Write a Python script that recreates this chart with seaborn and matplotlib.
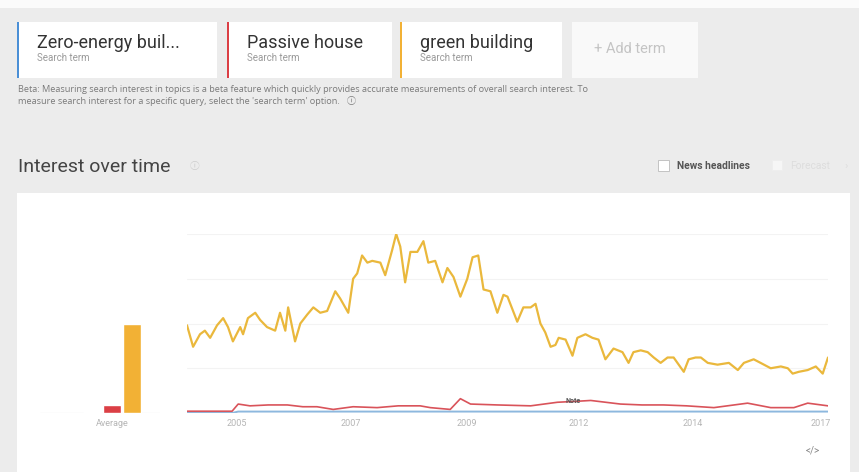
import matplotlib
matplotlib.use("Agg")
import matplotlib.pyplot as plt
import seaborn as sns
import pandas as pd
from matplotlib.patches import Rectangle

# ---------------- data ----------------
terms = ["Zero-energy building", "Passive house", "green building"]
term_labels = ["Zero-energy buil...", "Passive house", "green building"]
term_colors = ["#4a8fd6", "#db3f45", "#f2b135"]
averages = [0.6, 4.5, 50]

# months since Jan 2004
green_month = [0, 1.5, 3.2, 4.4, 5.7, 7.4, 8.9, 10.1, 11.3, 13.1, 13.8, 15.0, 16.8, 18.0,
               19.7, 21.7, 22.9, 24.2, 24.9, 26.6, 27.9, 29.6, 31.1, 32.8, 34.5, 36.5,
               37.7, 39.7, 40.9, 41.9, 43.1, 44.4, 45.6, 47.6, 48.8, 50.5, 51.5, 52.5,
               53.7, 55.0, 56.7, 58.2, 59.4, 61.1, 62.9, 64.1, 65.6, 67.3, 69.0, 70.3,
               71.7, 73.0, 74.7, 76.4, 77.9, 78.9, 81.3, 82.8, 84.6, 85.8, 87.0, 88.2,
               89.5, 90.7, 91.5, 93.2, 94.9, 96.1, 98.1, 99.8, 101.3, 103.0, 105.0,
               107.2, 108.7, 109.9, 111.7, 113.4, 114.9, 116.6, 118.3, 119.8, 122.3,
               123.5, 125.2, 126.5, 128.2, 130.6, 133.4, 135.6, 137.1, 139.5, 141.2,
               143.7, 146.2, 147.9, 149.1, 150.6, 152.8, 154.8, 156.5, 157.8]
green_value = [49, 37, 44, 46, 42, 49, 53, 48, 40, 48, 44, 53, 56, 52,
               48, 46, 56, 46, 59, 40, 50, 55, 59, 56, 57, 68,
               64, 56, 75, 78, 88, 84, 85, 84, 77, 91, 100, 93,
               73, 90, 90, 96, 84, 85, 73, 81, 76, 65, 75, 87,
               88, 69, 68, 56, 66, 65, 51, 59, 59, 61, 50, 45,
               37, 38, 42, 41, 32, 42, 44, 42, 41, 30, 36,
               34, 28, 34, 35, 34, 31, 28, 31, 31, 23,
               30, 31, 31, 28, 27, 28, 24, 28, 30, 28,
               25, 26, 25, 22, 23, 24, 26, 22, 31]

passive_month = [0, 11.1, 12.6, 15.5, 20.0, 24.7, 28.5, 32.0, 36.0, 40.9, 46.8, 52.0,
                 57.4, 59.9, 64.8, 67.3, 69.8, 76.4, 84.6, 91.2, 95.6, 99.4, 106.7,
                 112.0, 117.3, 123.0, 129.7, 138.0, 143.7, 149.4, 152.8, 157.8]
passive_value = [1, 1, 5, 4, 4.5, 4.5, 3.5, 3.5, 2, 3.5, 3, 4,
                 4, 3, 2, 8, 5, 4.5, 4, 6, 6.5, 7, 5,
                 4.5, 4.5, 4, 3, 5.5, 3, 3, 5.5, 4]

zero_month = [0, 11.1, 12.6, 157.8]
zero_value = [0, 0, 0.8, 0.8]

tick_months = [12.3, 40.4, 68.8, 96.4, 124.5, 156.0]
tick_labels = ["2005", "2007", "2009", "2012", "2014", "2017"]

# ---------------- figure ----------------
W, H = 859, 472
fig = plt.figure(figsize=(W / 100, H / 100), dpi=100)
fig.patch.set_facecolor("#ececec")

bg = fig.add_axes([0, 0, 1, 1])
bg.set_xlim(0, W)
bg.set_ylim(H, 0)
bg.axis("off")

FONT = "Roboto"
ICON_FONT = ["Open Sans", "Noto Sans CJK JP", "DejaVu Sans"]

# top white strip
bg.add_patch(Rectangle((0, 0), W, 8, color="#fbfbfb", lw=0))

# term cards
cards = [(17, 217), (227, 392), (400, 562)]
for (x0, x1), lab, col in zip(cards, term_labels, term_colors):
    bg.add_patch(Rectangle((x0, 22), x1 - x0, 56, color="white", lw=0))
    bg.add_patch(Rectangle((x0, 22), 2, 56, color=col, lw=0))
    bg.text(x0 + 20, 43, lab, fontsize=13, family=FONT, color="#333333", va="center", ha="left")
    bg.text(x0 + 20, 58, "Search term", fontsize=7, family=FONT, color="#9a9a9a", va="center", ha="left")
bg.add_patch(Rectangle((572, 22), 126, 56, color="#f9f9f9", lw=0))
bg.text(630, 49, "+ Add term", fontsize=10.5, family=FONT, color="#c4c4c4", va="center", ha="center")

bg.text(18, 89.5, "Beta: Measuring search interest in topics is a beta feature which quickly provides accurate "
        "measurements of overall search interest. To", fontsize=6.6, family="Open Sans", color="#7a7a7a",
        va="center", ha="left")
bg.text(18, 100.5, "measure search interest for a specific query, select the 'search term' option.   \u24d8",
        fontsize=6.6, family=ICON_FONT, color="#7a7a7a", va="center", ha="left")

# section header
bg.text(18, 167, "Interest over time", fontsize=14, family=FONT, color="#444444", va="center", ha="left")
bg.text(195, 167, "\u24d8", fontsize=7, family=ICON_FONT, color="#cccccc", va="center", ha="center")
bg.add_patch(Rectangle((658, 160), 11, 11, facecolor="white", edgecolor="#bbbbbb", lw=0.6))
bg.text(677, 166, "News headlines", fontsize=7.4, family=FONT, color="#555555", weight="bold",
        va="center", ha="left")
bg.add_patch(Rectangle((772, 160), 10, 10, facecolor="#f6f6f6", edgecolor="#eeeeee", lw=0.6))
bg.text(790, 166, "Forecast", fontsize=7.4, family=FONT, color="#dddddd", va="center", ha="left")
bg.text(846, 166, "\u203a", fontsize=8, family=FONT, color="#dddddd", va="center", ha="center")

# white panel
bg.add_patch(Rectangle((17, 193), 833, H - 193, color="white", lw=0))
bg.text(813, 451, "</>", fontsize=7, family=FONT, color="#888888", va="center", ha="center")


def frac(x0, y_top, w, h):
    return [x0 / W, 1 - (y_top + h) / H, w / W, h / H]


sns.set_style("white")

# ---------------- average bars ----------------
axb = fig.add_axes(frac(40, 234, 120, 179))
axb.patch.set_alpha(0)
avg_df = pd.DataFrame({"term": terms, "avg": averages})
sns.barplot(data=avg_df, x="term", y="avg", hue="term", palette=term_colors,
            order=terms, hue_order=terms, width=0.9, saturation=1, legend=False, ax=axb)
axb.set_xlim(-2.6, 3.4)
axb.set_ylim(0, 100)
axb.axhline(0, color="#cccccc", lw=0.8, zorder=0)
axb.set_xticks([1])
axb.set_xticklabels(["Average"], fontsize=6.5, color="#b5b5b5", family=FONT)
axb.set_yticks([])
axb.tick_params(axis="x", length=0, pad=4)
axb.set_xlabel("")
axb.set_ylabel("")
for s in axb.spines.values():
    s.set_visible(False)

# ---------------- time series ----------------
axl = fig.add_axes(frac(187, 234, 641, 179))
axl.patch.set_alpha(0)
for yv in [25, 50, 75, 100]:
    axl.axhline(yv, color="#f3f3f3", lw=0.8, zorder=0)

zero_df = pd.DataFrame({"month": zero_month, "value": zero_value})
passive_df = pd.DataFrame({"month": passive_month, "value": passive_value})
green_df = pd.DataFrame({"month": green_month, "value": green_value})

sns.lineplot(data=zero_df, x="month", y="value", color="#8db8de", lw=1.4, ax=axl)
sns.lineplot(data=passive_df, x="month", y="value", color="#d9535a", lw=1.2, ax=axl)
sns.lineplot(data=green_df, x="month", y="value", color="#eab83c", lw=1.6, ax=axl)

axl.text(95.0, 6.5, "Note", fontsize=5, family=FONT, color="#555555", ha="center", va="center",
         weight="bold")

axl.set_xlim(0, 157.8)
axl.set_ylim(0, 100)
axl.set_xticks(tick_months)
axl.set_xticklabels(tick_labels, fontsize=6.5, color="#b5b5b5", family=FONT)
axl.set_yticks([])
axl.tick_params(axis="x", length=0, pad=4)
axl.set_xlabel("")
axl.set_ylabel("")
for s in axl.spines.values():
    s.set_visible(False)

fig.savefig("out.png", dpi=100, facecolor=fig.get_facecolor())
